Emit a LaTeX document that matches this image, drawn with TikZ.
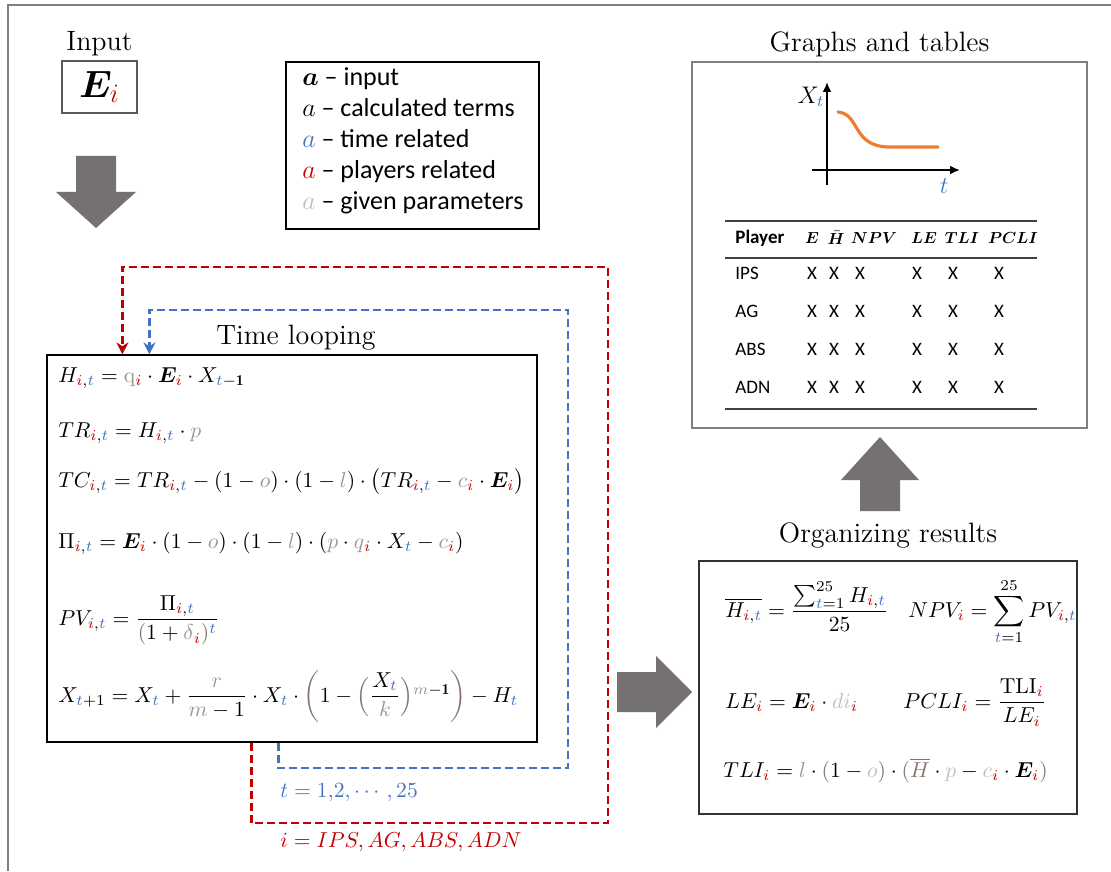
\RequirePackage{fix-cm}
\documentclass[tikz,border=0pt]{standalone}
\usepackage{amsmath,amssymb}
\usepackage{bm}
\usepackage{fontspec}
\newfontfamily\calibri{Carlito}
\usetikzlibrary{arrows.meta,positioning,fit}

\definecolor{playred}{RGB}{192,0,0}
\definecolor{timeblue}{RGB}{68,114,196}
\definecolor{parm}{RGB}{150,150,150}
\definecolor{parmlight}{RGB}{190,190,190}
\definecolor{paren}{RGB}{135,115,110}
\definecolor{blockgray}{RGB}{118,113,113}
\definecolor{curveorange}{RGB}{237,125,49}
\definecolor{framegray}{RGB}{127,127,127}

\newcommand{\pli}{\textcolor{playred}{i}}
\newcommand{\tmt}{\textcolor{timeblue}{t}}
\newcommand{\gpar}[1]{\textcolor{parm}{#1}}
\newcommand{\gparl}[1]{\textcolor{parmlight}{#1}}
\newcommand{\bE}{\bm{E}}

\begin{document}
\begin{tikzpicture}[x=0.5pt,y=-0.5pt,
    box/.style={draw, line width=0.6pt, inner sep=0pt},
    ttl/.style={font=\fontsize{14}{16}\selectfont, inner sep=0pt},
    eqn/.style={anchor=base west, inner sep=0pt, font=\fontsize{10.8}{13}\selectfont},
    legtext/.style={anchor=west, align=left, inner sep=0pt, font=\calibri\fontsize{13}{15.5}\selectfont},
    cell/.style={inner sep=0pt, font=\calibri\fontsize{9.5}{11}\selectfont},
    colhead/.style={inner sep=0pt, font=\fontsize{8}{10}\selectfont},
    rule/.style={line width=0.6pt, draw=black!75},
    axis/.style={line width=1.2pt, -{Latex[length=5pt,width=4.5pt]}},
    ploop/.style={draw=playred, line width=1.2pt, dash pattern=on 4pt off 2pt, -{Stealth[length=6pt,width=6pt]}},
    tloop/.style={draw=timeblue, line width=1.2pt, dash pattern=on 4pt off 2pt, -{Stealth[length=6pt,width=6pt]}}]

    \useasboundingbox (0,0) rectangle (1111,871);
    % outer frame (left and top only)
    \draw[framegray, line width=0.6pt] (8,871) -- (8,5) -- (1111,5);

    % input
    \node[box, draw=black!65, fit={(62,61) (137,113)}] (input) {};
    \node[font=\fontsize{19}{21}\selectfont, inner sep=0pt] (ei) at (input.center) {$\bE_{\pli}$};
    \node[ttl, above=2pt of input] (inputlbl) {Input};
    \fill[blockgray] (76,156) -- (116,156) -- (116,192) -- (136,192) -- (96,228) -- (56,192) -- (76,192) -- cycle;

    % legend
    \node[box, fit={(286,62) (539,229)}] (legend) {};
    \node[legtext] (legtxt) at (302,141) {%
      $\bm{a}$ – input\\
      $a$ – calculated terms\\
      $\textcolor{timeblue}{a}$ – time related\\
      $\textcolor{playred}{a}$ – players related\\
      $\textcolor{parmlight}{a}$ – given parameters};

    % time looping box
    \node[box, fit={(47,355) (537,742)}] (loop) {};
    \node[ttl, above=2pt of loop, xshift=2pt] (looplbl) {Time looping};
    \node[eqn] (eqh) at (58,382) {$H_{\pli,\tmt} = \gpar{\mathrm{q}}_{\pli}\cdot\bE_{\pli}\cdot X_{\tmt-\mathbf{1}}$};
    \node[eqn] (eqtr) at (58,437) {$TR_{\pli,\tmt} = H_{\pli,\tmt}\cdot\gpar{p}$};
    \node[eqn] (eqtc) at (58,487) {$TC_{\pli,\tmt} = TR_{\pli,\tmt} - (1-\gpar{o})\cdot(1-\gpar{l})\cdot\big(TR_{\pli,\tmt} - \gpar{c}_{\pli}\cdot\bE_{\pli}\big)$};
    \node[eqn] (eqpi) at (58,548) {$\Pi_{\pli,\tmt} = \bE_{\pli}\cdot(1-\gpar{o})\cdot(1-\gpar{l})\cdot(\gpar{p}\cdot\gpar{q}_{\pli}\cdot X_{\tmt} - \gpar{c}_{\pli})$};
    \node[eqn] (eqpv) at (58,625) {$PV_{\pli,\tmt} = \dfrac{\Pi_{\pli,\tmt}}{\textcolor{paren}{(}1+\gpar{\delta}_{\pli}\textcolor{paren}{)}^{\tmt}}$};
    \node[eqn] (eqx) at (58,702) {$X_{\tmt+1} = X_{\tmt} + \dfrac{\gpar{r}}{\gpar{m}-1}\cdot X_{\tmt}\cdot\textcolor{paren}{\bigg(}1-\textcolor{paren}{\Big(}\dfrac{X_{\tmt}}{\gpar{k}}\textcolor{paren}{\Big)}^{\gpar{m}-\mathbf{1}}\textcolor{paren}{\bigg)} - H_{\tmt}$};

    % loops
    \path (loop.south west) ++(205,0) coordinate (rout);
    \path (loop.north west) ++(76,0) coordinate (rin);
    \path (loop.south west) ++(232,0) coordinate (tout);
    \path (loop.north west) ++(103,0) coordinate (tin);
    \draw[ploop] (rout) |- (608,823) -- (608,267) -| (rin);
    \draw[tloop] (tout) |- (568,768) -- (568,310) -| (tin);
    \node[eqn] (tlabel) at (280,797) {$\color{timeblue} t = 1{,}2,\cdots,25$};
    \node[eqn] (ilabel) at (280,847) {$\color{playred} i = IPS, AG, ABS, ADN$};

    % arrow to results
    \fill[blockgray] (617,672) -- (656,672) -- (656,656) -- (692,692) -- (656,728) -- (656,712) -- (617,712) -- cycle;

    % results box
    \node[box, draw=black!80, fit={(699,561) (1077,814)}] (results) {};
    \node[ttl, above=6pt of results] (reslbl) {Organizing results};
    \node[eqn] (eqhbar) at (725,617) {$\overline{H_{\pli,\tmt}} = \dfrac{\sum_{\tmt=1}^{25} H_{\pli,\tmt}}{25}$};
    \node[eqn] (eqnpv) at (908,617) {$NPV_{\pli} = \displaystyle\sum_{\tmt=1}^{25} PV_{\pli,\tmt}$};
    \node[eqn] (eqle) at (725,708) {$LE_{\pli} = \bE_{\pli}\cdot\gparl{di}_{\pli}$};
    \node[eqn] (eqpcli) at (903,708) {$PCLI_{\pli} = \dfrac{\mathrm{TLI}_{\pli}}{LE_{\pli}}$};
    \node[eqn] (eqtli) at (723,777) {$TLI_{\pli} = \gpar{l}\cdot\textcolor{paren}{(}1-\gparl{o}\textcolor{paren}{)}\cdot\textcolor{paren}{(\overline{H}}\cdot\gparl{p}-\gparl{c}_{\pli}\cdot\bE_{\pli}\textcolor{paren}{)}$};

    % arrow up to graphs
    \fill[blockgray] (860,511) -- (860,480) -- (841,480) -- (880,437) -- (919,480) -- (900,480) -- (900,511) -- cycle;

    % graphs and tables
    \node[box, draw=framegray, line width=1pt, fit={(692,62) (1087,428)}] (graphs) {};
    \node[ttl, above=2pt of graphs, xshift=-5pt] (graphlbl) {Graphs and tables};
    \draw[axis] (827,185) -- (827,82);
    \draw[axis] (812,170) -- (960,170);
    \node[font=\fontsize{12}{14}\selectfont, inner sep=0pt] (xlbl) at (811,97) {$X_{\tmt}$};
    \node[font=\fontsize{12}{14}\selectfont, inner sep=0pt] (tlbl) at (944,186) {$\tmt$};
    \draw[curveorange, line width=1.6pt, line cap=round] (838,112) .. controls (860,114) and (852,146) .. (888,147) -- (938,147);

    % table
    \draw[rule] (725,221) -- (1037,221);
    \draw[rule] (725,258) -- (1037,258);
    \draw[rule] (725,409) -- (1037,409);
    \node[cell, anchor=west] (h-player) at (735,238) {\bfseries Player};
    \node[colhead] (h-e) at (812,238) {$\bm{E}$};
    \node[colhead] (h-h) at (836,238) {$\bm{\bar{H}}$};
    \node[colhead] (h-npv) at (874,238) {$\bm{NPV}$};
    \node[colhead] (h-le) at (924,238) {$\bm{LE}$};
    \node[colhead] (h-tli) at (962,238) {$\bm{TLI}$};
    \node[colhead] (h-pcli) at (1013,238) {$\bm{PCLI}$};
    \foreach \pl/\yy in {IPS/273, AG/311, ABS/349, ADN/387} {
      \node[cell, anchor=west] (r-\pl) at (735,\yy) {\pl};
      \foreach \xx in {812,834,860,917,953,999}
        \node[cell] (c-\pl-\xx) at (\xx,\yy) {X};
    }

\end{tikzpicture}
\end{document}
